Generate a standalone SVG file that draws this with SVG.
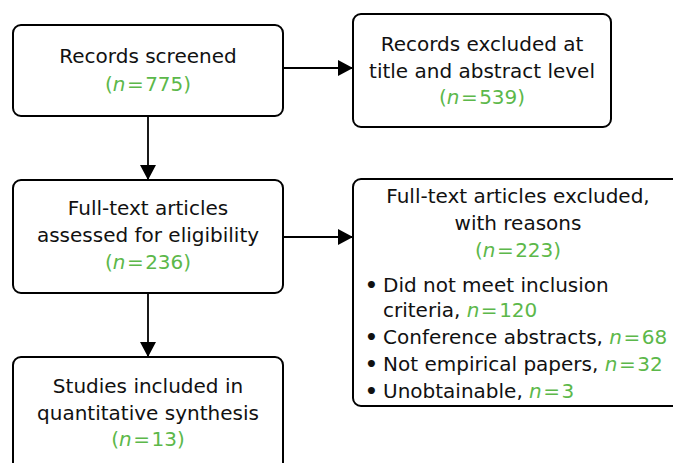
<svg xmlns="http://www.w3.org/2000/svg" width="673" height="463" viewBox="0 0 673 463">
<defs>
<style>
.box{fill:#fff;stroke:#000;stroke-width:2}
.t{font-family:"DejaVu Sans","Open Sans","Liberation Sans",sans-serif;font-size:20px;fill:#111}
.c{text-anchor:middle}
.g{fill:#5cb84a}
.i{font-style:italic}
.b{font-weight:bold}
.edge{stroke:#000;stroke-width:1.8;fill:none}
</style>
<marker id="ah" viewBox="0 0 15 16" refX="15" refY="8" markerWidth="15" markerHeight="16" markerUnits="userSpaceOnUse" orient="auto">
<path d="M0,0 L15,8 L0,16 Z" fill="#000"/>
</marker>
</defs>
<rect width="673" height="463" fill="#fff"/>
<g id="connectors">
<line class="edge" x1="148" y1="116" x2="148" y2="180" marker-end="url(#ah)"/>
<line class="edge" x1="148" y1="293" x2="148" y2="357" marker-end="url(#ah)"/>
<line class="edge" x1="283" y1="68" x2="353" y2="68" marker-end="url(#ah)"/>
<line class="edge" x1="283" y1="237" x2="353" y2="237" marker-end="url(#ah)"/>
</g>
<g id="records-screened">
<rect class="box" x="13" y="25" width="270" height="91" rx="8"/>
<text class="t c"><tspan x="148" y="63">Records screened</tspan><tspan class="g" x="148" y="91">(<tspan class="i">n</tspan><tspan dx="1.5">=</tspan><tspan dx="1.5">775)</tspan></tspan></text>
</g>
<g id="records-excluded">
<rect class="box" x="353" y="14" width="258" height="113" rx="8"/>
<text class="t c"><tspan x="482" y="51">Records excluded at</tspan><tspan x="482" y="77.5">title and abstract level</tspan><tspan class="g" x="482" y="104">(<tspan class="i">n</tspan><tspan dx="1.5">=</tspan><tspan dx="1.5">539)</tspan></tspan></text>
</g>
<g id="full-text-assessed">
<rect class="box" x="13" y="180" width="270" height="113" rx="8"/>
<text class="t c"><tspan x="148" y="215">Full-text articles</tspan><tspan x="148" y="241.7">assessed for eligibility</tspan><tspan class="g" x="148" y="268.5">(<tspan class="i">n</tspan><tspan dx="1.5">=</tspan><tspan dx="1.5">236)</tspan></tspan></text>
</g>
<g id="full-text-excluded">
<rect class="box" x="353" y="179" width="330" height="227" rx="8"/>
<text class="t"><tspan class="c" x="518" y="203">Full-text articles excluded,</tspan><tspan class="c" x="518" y="230">with reasons</tspan><tspan class="c g" x="518" y="257">(<tspan class="i">n</tspan><tspan dx="1.5">=</tspan><tspan dx="1.5">223)</tspan></tspan><tspan class="b" x="365" y="291.5">•</tspan><tspan x="383" y="291.5">Did not meet inclusion</tspan><tspan x="383" y="317">criteria, <tspan class="g i">n</tspan><tspan class="g" dx="1.5">=</tspan><tspan class="g" dx="1.5">120</tspan></tspan><tspan class="b" x="365" y="343.5">•</tspan><tspan x="383" y="343.5">Conference abstracts, <tspan class="g i">n</tspan><tspan class="g" dx="1.5">=</tspan><tspan class="g" dx="1.5">68</tspan></tspan><tspan class="b" x="365" y="370.5">•</tspan><tspan x="383" y="370.5">Not empirical papers, <tspan class="g i">n</tspan><tspan class="g" dx="1.5">=</tspan><tspan class="g" dx="1.5">32</tspan></tspan><tspan class="b" x="365" y="397.5">•</tspan><tspan x="383" y="397.5">Unobtainable, <tspan class="g i">n</tspan><tspan class="g" dx="1.5">=</tspan><tspan class="g" dx="1.5">3</tspan></tspan></text>
</g>
<g id="studies-included">
<rect class="box" x="13" y="357" width="270" height="130" rx="8"/>
<text class="t c"><tspan x="148" y="393">Studies included in</tspan><tspan x="148" y="419.5">quantitative synthesis</tspan><tspan class="g" x="148" y="446">(<tspan class="i">n</tspan><tspan dx="1.5">=</tspan><tspan dx="1.5">13)</tspan></tspan></text>
</g>
</svg>
